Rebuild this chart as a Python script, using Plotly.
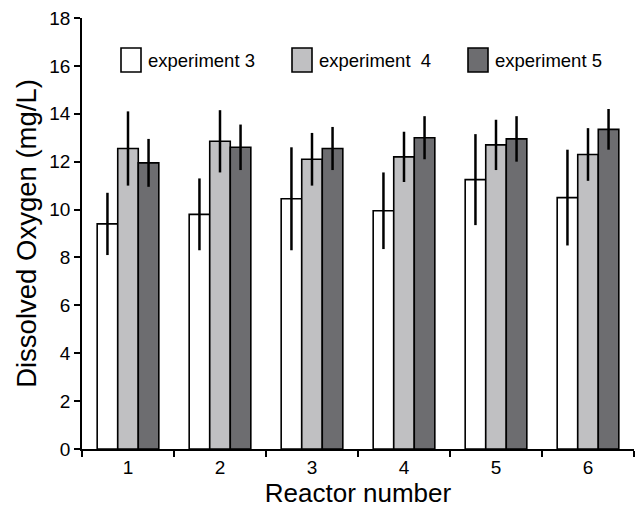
import plotly.graph_objects as go

reactors = ["1", "2", "3", "4", "5", "6"]
series_names = ["experiment 3", "experiment\u00a0 4", "experiment 5"]
exp3 = [9.4, 9.8, 10.45, 9.95, 11.25, 10.5]
exp3_err = [1.3, 1.5, 2.15, 1.6, 1.9, 2.0]
exp4 = [12.55, 12.85, 12.1, 12.2, 12.7, 12.3]
exp4_err = [1.55, 1.3, 1.1, 1.05, 1.05, 1.1]
exp5 = [11.95, 12.6, 12.55, 13.0, 12.95, 13.35]
exp5_err = [1.0, 0.95, 0.9, 0.9, 0.95, 0.85]
colors = ["#ffffff", "#c0c0c2", "#6d6d70"]

W, H = 635, 512
L, R, T, B = 82, 1, 18, 63
pw, ph = W - L - R, H - T - B

fig = go.Figure()
for name, vals, errs, col in zip(series_names, [exp3, exp4, exp5],
                                 [exp3_err, exp4_err, exp5_err], colors):
    fig.add_trace(go.Bar(
        x=reactors, y=vals, name=name,
        marker=dict(color=col, line=dict(color="black", width=1.6)),
        error_y=dict(type="data", array=errs, visible=True,
                     color="black", thickness=2.5, width=0),
        showlegend=False,
    ))

# custom legend
box_x = [121, 292, 468]
for name, col, bx in zip(series_names, colors, box_x):
    fig.add_shape(type="rect", xref="paper", yref="paper",
                  x0=(bx - L) / pw, x1=(bx + 20 - L) / pw,
                  y0=(H - B - 72) / ph, y1=(H - B - 48) / ph,
                  fillcolor=col, line=dict(color="black", width=1.6))
    fig.add_annotation(xref="paper", yref="paper",
                       x=(bx + 25 - L) / pw, y=(H - B - 60) / ph,
                       xanchor="left", yanchor="middle", showarrow=False,
                       text=name, font=dict(size=18.5, color="black"))

fig.update_layout(
    width=W, height=H,
    margin=dict(l=L, r=R, t=T, b=B),
    paper_bgcolor="white", plot_bgcolor="white",
    font=dict(family="Liberation Sans, Arial, sans-serif", color="black"),
    barmode="group", bargap=0.33, bargroupgap=0,
)
fig.update_xaxes(
    type="category", range=[-0.5, 5.5],
    showline=True, linecolor="black", linewidth=1.6,
    ticks="outside", tickson="boundaries", ticklen=6, tickwidth=1.6, tickcolor="black",
    showgrid=False, tickfont=dict(size=19),
    title=dict(text="Reactor number", font=dict(size=26), standoff=7),
)
fig.update_yaxes(
    range=[0, 18], dtick=2,
    showline=True, linecolor="black", linewidth=1.6,
    ticks="outside", ticklen=6, tickwidth=1.6, tickcolor="black",
    showgrid=False, zeroline=False, tickfont=dict(size=19),
    title=dict(text="Dissolved Oxygen (mg/L)", font=dict(size=27.5), standoff=5),
)

fig.write_html("out.html")
